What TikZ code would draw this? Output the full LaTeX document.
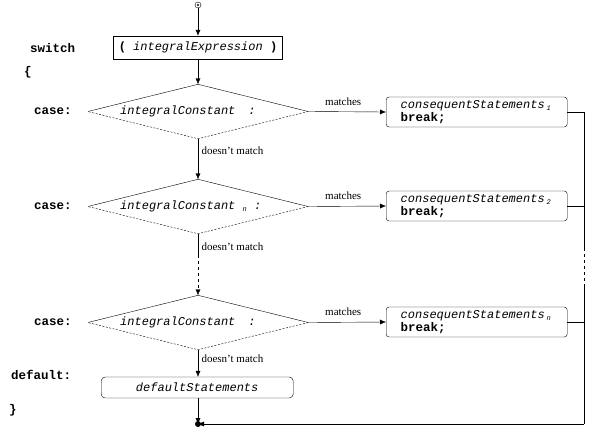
\documentclass[tikz,border=0pt]{standalone}
\usepackage{fontspec}
\setmainfont{Liberation Serif}
\setmonofont{Liberation Mono}
\usetikzlibrary{shapes.geometric,arrows.meta,positioning}
\newcommand{\csub}[1]{\raisebox{-2pt}{\fontsize{7}{7}\selectfont #1}}

\begin{document}
\begin{tikzpicture}[x=1pt,y=-1pt,font=\fontsize{11}{12}\selectfont]
       \tikzstyle{exprbox} = [rectangle, draw, minimum width=169pt, minimum height=23pt, font=\ttfamily\fontsize{12}{12}\selectfont];
       \tikzstyle{stmtbox} = [rectangle, draw, rounded corners=3pt, anchor=west, text width=152pt, inner xsep=14.5pt, minimum height=30pt, align=left, font=\ttfamily\fontsize{12}{13}\selectfont];
       \tikzstyle{test} = [diamond, minimum width=220pt, minimum height=54pt, inner sep=0pt];
       \tikzstyle{ctext} = [anchor=west, inner sep=0pt, font=\ttfamily\itshape\fontsize{12}{12}\selectfont];
       \tikzstyle{kw} = [anchor=west, inner sep=0pt, font=\ttfamily\bfseries\fontsize{12.5}{13}\selectfont];
       \tikzstyle{flow} = [-{Latex[length=6pt,width=5pt]}];
       \tikzstyle{lowerhalf} = [dash pattern=on 2pt off 1.5pt];

       \useasboundingbox (0,0) rectangle (591,432);

       % keywords on the left
       \node[kw] (switchkw) at (30,48) {switch};
       \node[kw] (openbrace) at (24,72) {\{};
       \node[kw] (case1) at (34,111) {case:};
       \node[kw] (case2) at (34,206) {case:};
       \node[kw] (case3) at (34,322) {case:};
       \node[kw] (defaultkw) at (11,375) {default:};
       \node[kw] (closebrace) at (9,410) {\}};

       % main column
       \node[circle, draw, inner sep=0pt, minimum size=6pt] (start) at (198,5) {};
       \fill (start) circle (1.2pt);
       \node[exprbox] (expr) at (198,47.5) {\textbf{(} \textit{integralExpression} \textbf{)}};
       \node[test] (t1) at (198,111.5) {};
       \node[test] (t2) at (198,206.5) {};
       \node[test] (t3) at (198,322.5) {};
       \node[ctext] (c1) at (120,111) {integralConstant\csub{}\hspace{13pt}:};
       \node[ctext] (c2) at (120,206) {integralConstant \csub{\textit{n}} :};
       \node[ctext] (c3) at (120,322) {integralConstant\csub{}\hspace{13pt}:};
       \node[stmtbox, rounded corners=4pt, text width=178pt, inner xsep=7pt, minimum height=21pt, align=center] (dflt) at (101,387.5) {\textit{defaultStatements}};
       \fill (198,424) circle (3pt) coordinate (join);

       % right column
       \node[stmtbox] (s1) at (386,112) {\textit{consequentStatements}\,\csub{\textit{1}}\\\fontsize{12.5}{13}\selectfont\textbf{break;}};
       \node[stmtbox] (s2) at (386,206) {\textit{consequentStatements}\,\csub{\textit{2}}\\\fontsize{12.5}{13}\selectfont\textbf{break;}};
       \node[stmtbox] (s3) at (386,322) {\textit{consequentStatements}\,\csub{\textit{n}}\\\fontsize{12.5}{13}\selectfont\textbf{break;}};

       \coordinate (bend) at (584,424);
       \coordinate (gap1) at (584,248);
       \coordinate (gap2) at (584,284);
       \coordinate (vgap) at (198,255);

       % diamond outlines
       \foreach \t in {t1,t2,t3} {
         \draw (\t.west) -- (\t.north) -- (\t.east);
         \draw[lowerhalf] (\t.east) -- (\t.south) -- (\t.west);
       }

       % connectors
       \draw[flow] (start) -- (expr);
       \draw[flow] (expr) -- (t1.north);
       \draw[flow] (t1.south) -- node[right, pos=0.3] {doesn't match} (t2.north);
       \draw (t2.south) -- node[right, pos=0.6] {doesn't match} (vgap);
       \draw[flow, dashed] (vgap) -- (t3.north);
       \draw[flow] (t3.south) -- node[right, pos=0.35] {doesn't match} (dflt.north -| t3.south);
       \draw[flow] (dflt.south -| t3.south) -- (join);
       \draw[flow] (t1.east) -- node[above=3pt, pos=0.45] {matches} (s1.west);
       \draw[flow] (t2.east) -- node[above=3pt, pos=0.45] {matches} (s2.west);
       \draw[flow] (t3.east) -- node[above=3pt, pos=0.45] {matches} (s3.west);
       \draw (s1.east) -| (gap1);
       \draw[dashed] (gap1) -- (gap2);
       \draw (gap2) -- (bend);
       \draw (s2.east) -- (s2.east -| bend);
       \draw (s3.east) -- (s3.east -| bend);
       \draw[flow] (bend) -- (join);
\end{tikzpicture}
\end{document}
